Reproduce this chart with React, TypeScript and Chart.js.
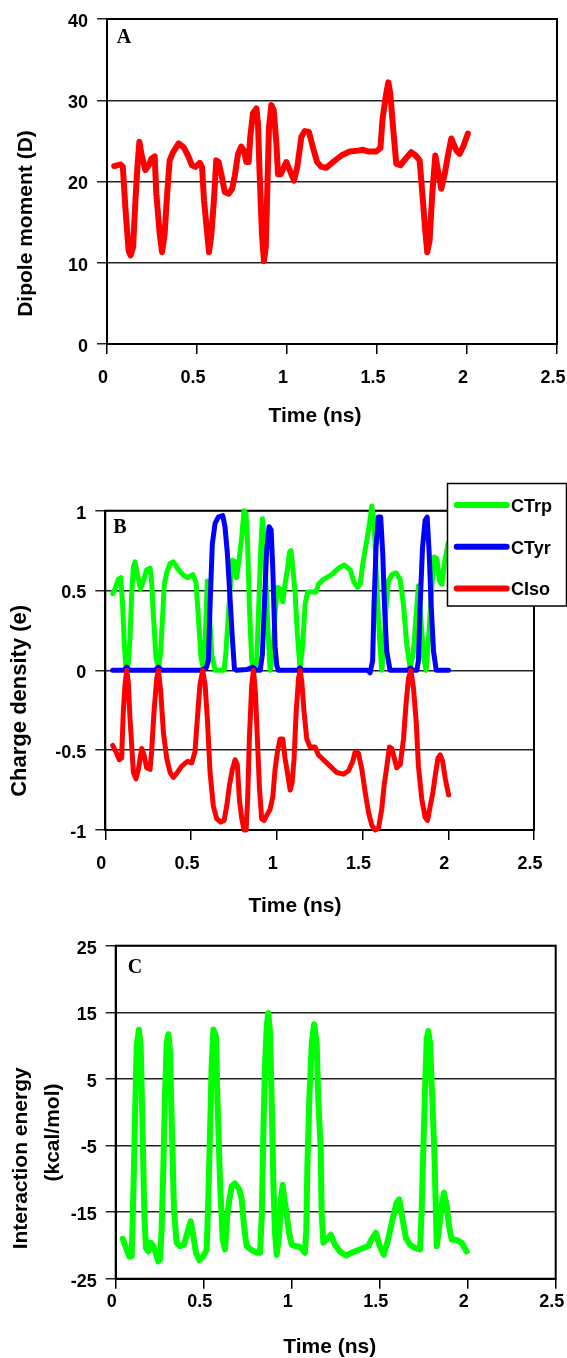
import React, { useEffect, useRef } from "react";
import { Chart, registerables } from "chart.js";

Chart.register(...registerables);

const SANS = '"Liberation Sans", Arial, sans-serif';
const SERIF = '"Liberation Serif", "Times New Roman", serif';

// ---------- shared ----------
const timeTicks = [0, 0.5, 1, 1.5, 2, 2.5];
const xAxisTitle = "Time (ns)";

// ---------- Panel A : dipole moment ----------
const dipoleTicks = [0, 10, 20, 30, 40];
const dipoleTime = [
  0.04, 0.076, 0.088, 0.102, 0.12, 0.131, 0.145, 0.158, 0.169, 0.18, 0.191, 0.213, 0.232, 0.247, 0.265,
  0.274, 0.293, 0.306, 0.32, 0.335, 0.348, 0.367, 0.398, 0.426, 0.45, 0.472, 0.491, 0.515, 0.528, 0.539,
  0.557, 0.567, 0.58, 0.594, 0.607, 0.62, 0.639, 0.654, 0.676, 0.695, 0.71, 0.728, 0.746, 0.761, 0.774,
  0.787, 0.796, 0.811, 0.83, 0.839, 0.848, 0.861, 0.872, 0.882, 0.891, 0.9, 0.913, 0.926, 0.941, 0.95,
  0.965, 0.996, 1.015, 1.039, 1.057, 1.08, 1.098, 1.122, 1.144, 1.167, 1.191, 1.219, 1.256, 1.302, 1.348,
  1.394, 1.422, 1.45, 1.496, 1.519, 1.53, 1.548, 1.563, 1.574, 1.589, 1.607, 1.63, 1.659, 1.69, 1.715,
  1.737, 1.752, 1.768, 1.779, 1.792, 1.807, 1.824, 1.838, 1.857, 1.876, 1.894, 1.913, 1.926, 1.941, 1.959,
  1.981, 2.005,
];
const dipoleMoment = [
  21.9, 22.1, 21.8, 16.8, 11.5, 10.9, 11.9, 17.7, 21.8, 24.9, 23.4, 21.4, 22.0, 22.8, 23.1,
  18.5, 13.5, 11.3, 13.5, 18.7, 22.6, 23.6, 24.7, 24.2, 23.2, 22.0, 21.8, 22.3, 21.8, 17.7,
  13.5, 11.3, 13.5, 17.7, 22.6, 22.4, 20.5, 18.7, 18.5, 19.1, 20.7, 23.4, 24.3, 23.8, 22.4,
  22.4, 25.5, 28.4, 29.0, 27.1, 20.9, 13.5, 10.2, 11.9, 19.3, 26.7, 29.4, 28.8, 24.7, 20.9,
  20.9, 22.4, 21.4, 20.1, 21.8, 25.5, 26.2, 26.1, 24.2, 22.4, 21.8, 21.7, 22.4, 23.2, 23.7,
  23.8, 23.9, 23.7, 23.7, 24.1, 27.5, 30.4, 32.2, 30.8, 26.7, 22.2, 22.0, 22.8, 23.6, 23.2,
  22.6, 18.5, 14.0, 11.3, 12.7, 18.5, 23.2, 21.4, 19.1, 20.9, 23.2, 25.3, 24.6, 23.8, 23.4,
  24.4, 25.9,
];

// ---------- Panel B : charge density ----------
const chargeTicks = [-1, -0.5, 0, 0.5, 1];
const chargeLabels = ["CTrp", "CTyr", "CIso"];

const trpTime = [
  0.043, 0.057, 0.076, 0.09, 0.101, 0.111, 0.121, 0.134, 0.144, 0.154, 0.164, 0.173, 0.187, 0.206, 0.222,
  0.241, 0.261, 0.27, 0.28, 0.296, 0.31, 0.323, 0.335, 0.344, 0.358, 0.378, 0.397, 0.42, 0.451, 0.479,
  0.51, 0.529, 0.543, 0.558, 0.572, 0.584, 0.595, 0.607, 0.621, 0.64, 0.669, 0.693, 0.704, 0.718, 0.731,
  0.741, 0.757, 0.766, 0.782, 0.796, 0.809, 0.821, 0.83, 0.84, 0.854, 0.868, 0.883, 0.895, 0.907, 0.916,
  0.926, 0.938, 0.951, 0.961, 0.977, 0.99, 1.004, 1.019, 1.035, 1.048, 1.062, 1.074, 1.083, 1.093, 1.107,
  1.12, 1.136, 1.151, 1.165, 1.179, 1.204, 1.229, 1.243, 1.272, 1.321, 1.36, 1.393, 1.428, 1.451, 1.471,
  1.486, 1.502, 1.521, 1.541, 1.554, 1.568, 1.579, 1.599, 1.612, 1.622, 1.638, 1.651, 1.671, 1.696, 1.719,
  1.739, 1.758, 1.778, 1.797, 1.813, 1.826, 1.84, 1.856, 1.871, 1.885, 1.904, 1.918, 1.934, 1.949, 1.963,
  1.977, 2.0,
];
const trpCharge = [
  0.48, 0.51, 0.57, 0.58, 0.41, 0.16, 0.01, 0.04, 0.2, 0.48, 0.65, 0.68, 0.6, 0.51, 0.56,
  0.63, 0.64, 0.56, 0.35, 0.08, 0.01, 0.12, 0.35, 0.54, 0.61, 0.67, 0.68, 0.64, 0.6, 0.58,
  0.6, 0.55, 0.33, 0.08, 0.01, 0.23, 0.56, 0.35, 0.1, 0.0, 0.0, 0.0, 0.12, 0.35, 0.56,
  0.69, 0.68, 0.58, 0.71, 0.84, 1.0, 0.98, 0.79, 0.41, 0.06, 0.0, 0.06, 0.41, 0.77, 0.95,
  0.84, 0.52, 0.2, 0.0, 0.1, 0.35, 0.52, 0.51, 0.43, 0.54, 0.63, 0.74, 0.75, 0.65, 0.48,
  0.23, 0.01, 0.16, 0.41, 0.49, 0.49, 0.49, 0.54, 0.57, 0.6, 0.64, 0.66, 0.63, 0.55, 0.52,
  0.54, 0.67, 0.79, 0.92, 1.03, 0.92, 0.63, 0.2, 0.0, 0.12, 0.41, 0.56, 0.6, 0.61, 0.57,
  0.41, 0.16, 0.01, 0.12, 0.35, 0.53, 0.33, 0.08, 0.0, 0.2, 0.52, 0.71, 0.7, 0.56, 0.54,
  0.67, 0.8,
];

const tyrTime = [
  0.043, 0.11, 0.125, 0.14, 0.29, 0.31, 0.33, 0.56, 0.588, 0.601, 0.611, 0.624, 0.64, 0.659, 0.685,
  0.698, 0.712, 0.727, 0.741, 0.753, 0.766, 0.825, 0.86, 0.883, 0.903, 0.916, 0.926, 0.941, 0.955, 0.967,
  0.977, 0.99, 1.0, 1.01, 1.12, 1.136, 1.15, 1.53, 1.544, 1.559, 1.567, 1.579, 1.592, 1.606, 1.618,
  1.628, 1.641, 1.661, 1.76, 1.78, 1.794, 1.817, 1.826, 1.836, 1.85, 1.865, 1.877, 1.889, 1.9, 1.914,
  1.93, 2.002,
];
const tyrCharge = [
  0.0, 0.0, 0.02, 0.0, 0.0, 0.02, 0.0, 0.0, 0.015, 0.06, 0.41, 0.79, 0.92, 0.96, 0.97,
  0.9, 0.73, 0.46, 0.2, 0.01, 0.0, 0.005, 0.02, 0.0, 0.0, 0.1, 0.37, 0.75, 0.9, 0.88,
  0.63, 0.15, 0.03, 0.0, 0.0, 0.015, 0.0, 0.0, -0.015, 0.06, 0.41, 0.77, 0.96, 0.96, 0.73,
  0.41, 0.12, 0.0, 0.0, 0.015, 0.0, 0.0, 0.06, 0.41, 0.77, 0.94, 0.96, 0.73, 0.41, 0.12,
  0.0, 0.0,
];

const isoTime = [
  0.043, 0.062, 0.082, 0.095, 0.105, 0.115, 0.125, 0.134, 0.144, 0.154, 0.164, 0.179, 0.193, 0.212, 0.226,
  0.241, 0.261, 0.27, 0.284, 0.3, 0.31, 0.323, 0.339, 0.358, 0.378, 0.397, 0.42, 0.446, 0.479, 0.504,
  0.523, 0.537, 0.552, 0.568, 0.582, 0.595, 0.611, 0.63, 0.65, 0.673, 0.693, 0.708, 0.724, 0.741, 0.757,
  0.77, 0.782, 0.796, 0.809, 0.821, 0.83, 0.84, 0.854, 0.864, 0.875, 0.887, 0.899, 0.912, 0.926, 0.941,
  0.961, 0.977, 0.99, 1.004, 1.019, 1.035, 1.048, 1.062, 1.078, 1.09, 1.101, 1.113, 1.127, 1.136, 1.146,
  1.159, 1.175, 1.194, 1.223, 1.243, 1.272, 1.311, 1.35, 1.389, 1.418, 1.443, 1.457, 1.476, 1.496, 1.515,
  1.535, 1.554, 1.574, 1.593, 1.612, 1.626, 1.642, 1.657, 1.671, 1.685, 1.7, 1.72, 1.739, 1.753, 1.768,
  1.782, 1.797, 1.813, 1.826, 1.846, 1.865, 1.879, 1.895, 1.911, 1.924, 1.94, 1.953, 1.967, 1.983, 2.002,
];
const isoCharge = [
  -0.47, -0.51, -0.56, -0.55, -0.26, -0.09, 0.0, -0.07, -0.3, -0.47, -0.64, -0.68, -0.62, -0.49, -0.53,
  -0.61, -0.62, -0.51, -0.26, -0.05, 0.0, -0.13, -0.39, -0.55, -0.64, -0.67, -0.64, -0.6, -0.57, -0.58,
  -0.51, -0.3, -0.09, 0.0, -0.09, -0.3, -0.64, -0.85, -0.93, -0.95, -0.94, -0.85, -0.72, -0.62, -0.56,
  -0.59, -0.81, -0.93, -1.0, -1.0, -0.81, -0.43, -0.09, 0.0, -0.13, -0.43, -0.74, -0.93, -0.94, -0.91,
  -0.87, -0.79, -0.62, -0.51, -0.43, -0.43, -0.55, -0.64, -0.75, -0.7, -0.55, -0.26, -0.05, 0.0, -0.07,
  -0.26, -0.43, -0.48, -0.48, -0.53, -0.56, -0.6, -0.64, -0.65, -0.63, -0.57, -0.51, -0.52, -0.62, -0.76,
  -0.89, -0.97, -1.0, -0.99, -0.87, -0.72, -0.6, -0.48, -0.49, -0.55, -0.61, -0.59, -0.43, -0.22, -0.05,
  0.0, -0.11, -0.32, -0.6, -0.81, -0.92, -0.94, -0.85, -0.76, -0.66, -0.55, -0.53, -0.57, -0.68, -0.78,
];

// ---------- Panel C : interaction energy ----------
const energyTicks = [-25, -15, -5, 5, 15, 25];
const energyTime = [
  0.04, 0.059, 0.078, 0.091, 0.096, 0.104, 0.112, 0.119, 0.132, 0.142, 0.151, 0.163, 0.172, 0.185, 0.199,
  0.214, 0.227, 0.242, 0.252, 0.261, 0.271, 0.28, 0.29, 0.299, 0.308, 0.32, 0.331, 0.346, 0.365, 0.388,
  0.407, 0.426, 0.441, 0.456, 0.475, 0.498, 0.517, 0.526, 0.536, 0.545, 0.555, 0.57, 0.578, 0.593, 0.608,
  0.621, 0.634, 0.646, 0.659, 0.678, 0.703, 0.716, 0.729, 0.744, 0.773, 0.801, 0.82, 0.83, 0.839, 0.848,
  0.858, 0.867, 0.877, 0.886, 0.896, 0.905, 0.915, 0.93, 0.939, 0.949, 0.958, 0.971, 0.985, 1.0, 1.019,
  1.043, 1.062, 1.075, 1.083, 1.089, 1.1, 1.114, 1.127, 1.142, 1.151, 1.165, 1.17, 1.18, 1.199, 1.222,
  1.246, 1.274, 1.308, 1.35, 1.397, 1.435, 1.454, 1.478, 1.5, 1.523, 1.548, 1.573, 1.596, 1.611, 1.63,
  1.649, 1.672, 1.7, 1.729, 1.738, 1.748, 1.757, 1.767, 1.776, 1.786, 1.799, 1.811, 1.82, 1.824, 1.839,
  1.852, 1.865, 1.881, 1.894, 1.909, 1.937, 1.966, 1.994,
];
const energyValue = [
  -19.0, -20.4, -21.7, -21.6, -16.6, -8.1, 1.9, 9.9, 12.4, 9.9, -0.6, -15.6, -20.4, -20.9, -19.6,
  -20.1, -21.1, -22.4, -22.1, -17.6, -8.1, 2.4, 10.4, 11.7, 9.4, -3.1, -14.6, -19.6, -20.1, -19.9,
  -18.1, -16.4, -18.6, -21.1, -22.2, -21.6, -20.6, -13.1, -3.1, 6.9, 12.4, 11.4, 1.9, -10.6, -19.1,
  -20.6, -15.6, -13.1, -11.1, -10.7, -11.6, -13.1, -17.1, -20.1, -20.7, -21.1, -21.1, -15.6, -3.1, 6.9,
  12.9, 14.9, 11.9, 1.9, -10.6, -18.1, -21.4, -18.1, -13.1, -10.9, -13.1, -15.1, -18.1, -19.9, -20.1,
  -20.2, -20.6, -21.1, -17.6, -8.1, 1.9, 10.4, 13.2, 10.4, 1.9, -5.6, -15.1, -19.6, -19.1, -18.4,
  -19.9, -20.9, -21.5, -21.0, -20.5, -20.1, -19.1, -18.1, -20.1, -21.4, -19.1, -16.1, -13.6, -13.1, -16.1,
  -18.9, -19.9, -20.4, -20.6, -15.1, -5.6, 2.9, 10.9, 12.2, 10.4, 1.9, -6.6, -15.6, -20.1, -17.1,
  -14.1, -12.1, -14.1, -17.1, -19.1, -19.2, -19.6, -20.9,
];

// ---------- layout specs ----------
type Line = { label: string; time: number[]; value: number[]; color: string };
type TitleLine = { text: string; x: number; y: number; size: number };
type Spec = {
  top: number;
  height: number;
  padTop: number;
  padRight: number;
  yWidth: number;
  xHeight: number;
  yMin: number;
  yMax: number;
  yTicks: number[];
  lines: Line[];
  lineWidth: number;
  xLabelPad: number;
  letter: { text: string; x: number; y: number };
  xTitle: { x: number; y: number };
  yTitle: TitleLine[];
  legend?: { x: number; y: number; w: number; h: number; sx0: number; sx1: number; row0: number; rowGap: number; tx: number };
};

const specA: Spec = {
  top: 0,
  height: 440,
  padTop: 19,
  padRight: 10,
  yWidth: 107,
  xHeight: 96,
  yMin: 0,
  yMax: 40,
  yTicks: dipoleTicks,
  lines: [{ label: "Dipole moment", time: dipoleTime, value: dipoleMoment, color: "#ff0000" }],
  lineWidth: 6,
  xLabelPad: 13,
  letter: { text: "A", x: 116.7, y: 43.3 },
  xTitle: { x: 315, y: 421.7 },
  yTitle: [{ text: "Dipole moment (D)", x: 32, y: 223.5, size: 21 }],
};

const specB: Spec = {
  top: 440,
  height: 480,
  padTop: 70.7,
  padRight: 33,
  yWidth: 105.3,
  xHeight: 90,
  yMin: -1,
  yMax: 1,
  yTicks: chargeTicks,
  lines: [
    { label: chargeLabels[0], time: trpTime, value: trpCharge, color: "#00ff00" },
    { label: chargeLabels[1], time: tyrTime, value: tyrCharge, color: "#0000ff" },
    { label: chargeLabels[2], time: isoTime, value: isoCharge, color: "#ff0000" },
  ],
  lineWidth: 5,
  xLabelPad: 13,
  letter: { text: "B", x: 113.3, y: 93.3 },
  xTitle: { x: 295, y: 471.7 },
  yTitle: [{ text: "Charge density (e)", x: 26, y: 260.8, size: 22 }],
  legend: { x: 447.5, y: 43.5, w: 119, h: 122.5, sx0: 456.7, sx1: 506.7, row0: 65, rowGap: 41.7, tx: 511 },
};

const specC: Spec = {
  top: 920,
  height: 438,
  padTop: 25.7,
  padRight: 11.3,
  yWidth: 115.7,
  xHeight: 79.3,
  yMin: -25,
  yMax: 25,
  yTicks: energyTicks,
  lines: [{ label: "Interaction energy", time: energyTime, value: energyValue, color: "#00ff00" }],
  lineWidth: 6,
  xLabelPad: 3,
  letter: { text: "C", x: 127.7, y: 52.7 },
  xTitle: { x: 329.7, y: 432.7 },
  yTitle: [
    { text: "Interaction energy", x: 27, y: 238.3, size: 21 },
    { text: "(kcal/mol)", x: 58.6, y: 212.5, size: 21 },
  ],
};

function decorPlugin(s: Spec) {
  return {
    id: "decor",
    beforeDatasetsDraw(chart: any) {
      const { ctx, chartArea: a } = chart;
      ctx.save();
      ctx.strokeStyle = "#000";
      ctx.lineWidth = 2;
      ctx.strokeRect(a.left, a.top, a.right - a.left, a.bottom - a.top);
      ctx.restore();
    },
    afterDraw(chart: any) {
      const ctx: CanvasRenderingContext2D = chart.ctx;
      ctx.save();
      ctx.fillStyle = "#000";
      ctx.textBaseline = "alphabetic";
      ctx.textAlign = "left";
      ctx.font = `bold 20px ${SERIF}`;
      ctx.fillText(s.letter.text, s.letter.x, s.letter.y);

      ctx.textAlign = "center";
      ctx.font = `bold 21px ${SANS}`;
      ctx.fillText(xAxisTitle, s.xTitle.x, s.xTitle.y);

      for (const t of s.yTitle) {
        ctx.save();
        ctx.translate(t.x, t.y);
        ctx.rotate(-Math.PI / 2);
        ctx.font = `bold ${t.size}px ${SANS}`;
        ctx.fillText(t.text, 0, 0);
        ctx.restore();
      }

      const lg = s.legend;
      if (lg) {
        ctx.fillStyle = "#fff";
        ctx.fillRect(lg.x, lg.y, lg.w, lg.h);
        ctx.strokeStyle = "#000";
        ctx.lineWidth = 1.5;
        ctx.strokeRect(lg.x, lg.y, lg.w, lg.h);
        chart.data.datasets.forEach((ds: any, i: number) => {
          const y = lg.row0 + i * lg.rowGap;
          ctx.strokeStyle = ds.borderColor;
          ctx.lineWidth = 6;
          ctx.lineCap = "round";
          ctx.beginPath();
          ctx.moveTo(lg.sx0, y);
          ctx.lineTo(lg.sx1, y);
          ctx.stroke();
          ctx.fillStyle = "#000";
          ctx.textAlign = "left";
          ctx.font = `bold 18px ${SANS}`;
          ctx.fillText(ds.label, lg.tx, y + 7);
        });
      }
      ctx.restore();
    },
  };
}

function buildConfig(s: Spec): any {
  const tickFont = { family: SANS, size: 18, weight: "bold" as const };
  return {
    type: "line",
    data: {
      datasets: s.lines.map((l, i) => ({
        label: l.label,
        data: l.time.map((t, k) => ({ x: t, y: l.value[k] })),
        borderColor: l.color,
        backgroundColor: l.color,
        borderWidth: s.lineWidth,
        pointRadius: 0,
        pointHoverRadius: 0,
        tension: 0,
        fill: false,
        borderJoinStyle: "round",
        borderCapStyle: "round",
        clip: false,
        order: s.lines.length - i,
      })),
    },
    options: {
      responsive: false,
      maintainAspectRatio: false,
      animation: false,
      devicePixelRatio: 1,
      events: [],
      layout: { padding: { top: s.padTop, right: s.padRight, left: 0, bottom: 0 } },
      plugins: { legend: { display: false }, tooltip: { enabled: false }, title: { display: false } },
      scales: {
        x: {
          type: "linear",
          min: 0,
          max: 2.5,
          afterBuildTicks: (sc: any) => {
            sc.ticks = timeTicks.map((v) => ({ value: v }));
          },
          afterFit: (sc: any) => {
            sc.height = s.xHeight;
            sc.paddingLeft = 0;
            sc.paddingRight = 0;
          },
          ticks: {
            color: "#000",
            font: tickFont,
            padding: s.xLabelPad,
            labelOffset: -4,
            maxRotation: 0,
            minRotation: 0,
            autoSkip: false,
            callback: (v: any) => String(v),
          },
          grid: { drawOnChartArea: false, drawTicks: true, color: "#000", lineWidth: 1.5, tickLength: 10 },
          border: { display: true, color: "#000", width: 2 },
        },
        y: {
          type: "linear",
          min: s.yMin,
          max: s.yMax,
          afterBuildTicks: (sc: any) => {
            sc.ticks = s.yTicks.map((v) => ({ value: v }));
          },
          afterFit: (sc: any) => {
            sc.width = s.yWidth;
            sc.paddingTop = 0;
            sc.paddingBottom = 0;
          },
          ticks: {
            color: "#000",
            font: tickFont,
            padding: 9,
            labelOffset: 3,
            autoSkip: false,
            callback: (v: any) => String(v),
          },
          grid: { color: "#222", lineWidth: 1.5, tickLength: 10, drawTicks: true },
          border: { display: true, color: "#000", width: 2 },
        },
      },
    },
    plugins: [decorPlugin(s)],
  };
}

function Panel({ spec }: { spec: Spec }) {
  const ref = useRef<HTMLCanvasElement | null>(null);
  useEffect(() => {
    if (!ref.current) return;
    const chart = new Chart(ref.current, buildConfig(spec));
    return () => chart.destroy();
  }, [spec]);
  return (
    <canvas
      ref={ref}
      width={567}
      height={spec.height}
      style={{ position: "absolute", left: 0, top: spec.top, width: 567, height: spec.height, display: "block" }}
    />
  );
}

export default function App() {
  return (
    <div style={{ position: "absolute", left: 0, top: 0, width: 567, height: 1358, background: "#fff", overflow: "hidden" }}>
      <Panel spec={specA} />
      <Panel spec={specB} />
      <Panel spec={specC} />
    </div>
  );
}
